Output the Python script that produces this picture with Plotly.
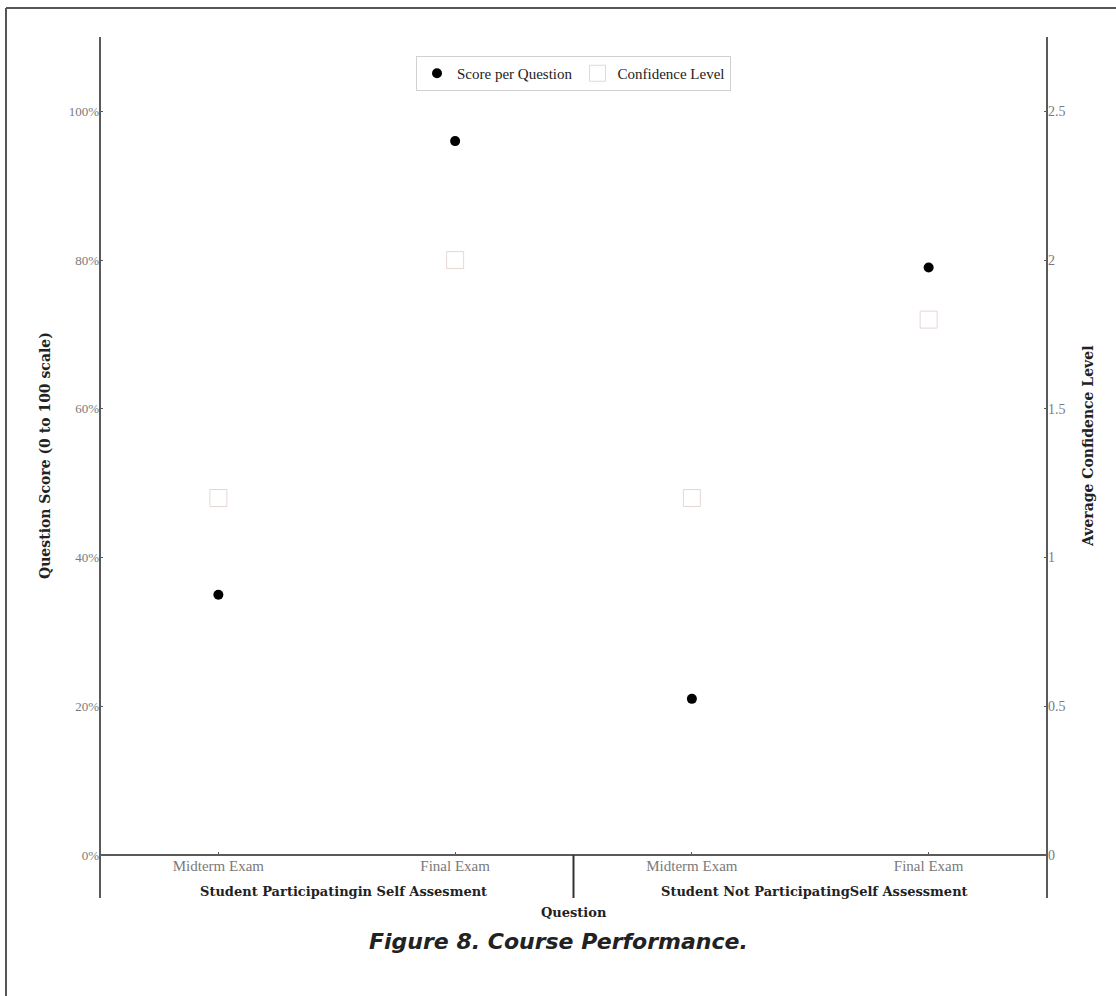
import plotly.graph_objects as go

# Data
groups = ["Student Participatingin Self Assesment", "Student Not ParticipatingSelf Assessment"]
exams = ["Midterm Exam", "Final Exam", "Midterm Exam", "Final Exam"]
score_pct = [35, 96, 21, 79]          # question score, percent
confidence = [1.2, 2.0, 1.2, 1.8]     # average confidence level
y_ticks = [0, 20, 40, 60, 80, 100]
y_ticklabels = ["0%", "20%", "40%", "60%", "80%", "100%"]
y2_ticks = [0, 0.5, 1, 1.5, 2, 2.5]
y2_ticklabels = ["0", "0.5", "1", "1.5", "2", "2.5"]

W, H = 1116, 996
L, R, T, B = 100, 69, 37, 141
pw, ph = W - L - R, H - T - B

def px_x(px):
    return (px - L) / pw

def px_y(py):
    return (H - B - py) / ph

SERIF = "Liberation Serif"
WIDE_SERIF = "DejaVu Serif"
AXIS = "#5a5a5a"
TICK = "#7a7a7a"

xpos = list(range(len(exams)))

fig = go.Figure()
fig.add_trace(go.Scatter(
    x=xpos, y=score_pct, mode="markers", name="Score per Question",
    marker=dict(symbol="circle", size=10, color="black"),
    yaxis="y",
))
fig.add_trace(go.Scatter(
    x=xpos, y=confidence, mode="markers", name="Confidence Level",
    marker=dict(symbol="square-open", size=17, color="#e6d6d2", line=dict(width=1)),
    yaxis="y2",
))

shapes = [
    # left axis extended below the baseline
    dict(type="line", xref="paper", yref="paper", x0=0, x1=0, y0=px_y(898), y1=1,
         line=dict(color=AXIS, width=2)),
    # right axis extended below the baseline
    dict(type="line", xref="paper", yref="paper", x0=1, x1=1, y0=px_y(898), y1=1,
         line=dict(color=AXIS, width=2)),
    # baseline
    dict(type="line", xref="paper", yref="paper", x0=0, x1=1, y0=0, y1=0,
         line=dict(color=AXIS, width=2)),
    # group divider
    dict(type="line", xref="x", yref="paper", x0=1.5, x1=1.5, y0=px_y(898), y1=0,
         line=dict(color="#333333", width=2)),
    # outer frame (left and top)
    dict(type="line", xref="paper", yref="paper", x0=px_x(6), x1=px_x(6),
         y0=px_y(1000), y1=px_y(8), line=dict(color="#555555", width=2)),
    dict(type="line", xref="paper", yref="paper", x0=px_x(6), x1=px_x(1120),
         y0=px_y(8), y1=px_y(8), line=dict(color="#555555", width=2)),
]

def note(text, x, y, xref="paper", size=15, angle=0, family=WIDE_SERIF,
         color="#222222", xshift=0):
    return dict(text=text, x=x, xref=xref, y=y, yref="paper", textangle=angle,
                xanchor="center", yanchor="middle", showarrow=False, xshift=xshift,
                font=dict(family=family, size=size, color=color))

annotations = [
    note("<b>" + groups[0] + "</b>", 0.5, px_y(891), xref="x", size=13, xshift=7),
    note("<b>" + groups[1] + "</b>", 2.5, px_y(891), xref="x", size=13, xshift=4),
    note("<b>Question</b>", 1.5, px_y(912), xref="x", size=13),
    note("<b>Question Score (0 to 100 scale)</b>", px_x(45), px_y(456), size=14, angle=-90),
    note("<b>Average Confidence Level</b>", px_x(1088), px_y(447), size=14, angle=-90),
    note("<b><i>Figure 8. Course Performance.</i></b>", px_x(558), px_y(941),
         size=22, family="DejaVu Sans"),
]

fig.update_layout(
    width=W, height=H,
    margin=dict(l=L, r=R, t=T, b=B, autoexpand=False),
    paper_bgcolor="white", plot_bgcolor="white",
    showlegend=True,
    legend=dict(
        orientation="h", x=0.5, xanchor="center", y=px_y(56), yanchor="top",
        bordercolor="#d0d0d0", borderwidth=1, bgcolor="white",
        font=dict(family=SERIF, size=15, color="#222222"),
        itemwidth=30, tracegroupgap=0,
    ),
    xaxis=dict(
        range=[-0.5, 3.5], tickmode="array", tickvals=xpos, ticktext=exams,
        ticks="inside", ticklen=3, tickcolor=AXIS, showgrid=False, zeroline=False,
        showline=False, tickfont=dict(family=SERIF, size=15, color=TICK),
    ),
    yaxis=dict(
        range=[0, 110], tickmode="array", tickvals=y_ticks, ticktext=y_ticklabels,
        ticks="inside", ticklen=3, tickcolor=AXIS, showgrid=False, zeroline=False,
        showline=False, tickfont=dict(family=SERIF, size=13, color=TICK),
    ),
    yaxis2=dict(
        range=[0, 2.75], overlaying="y", side="right", tickmode="array",
        tickvals=y2_ticks, ticktext=y2_ticklabels,
        ticks="inside", ticklen=3, tickcolor=AXIS, showgrid=False, zeroline=False,
        showline=False, tickfont=dict(family=SERIF, size=14, color=TICK),
    ),
    shapes=shapes,
    annotations=annotations,
)

fig.write_html("out.html")
